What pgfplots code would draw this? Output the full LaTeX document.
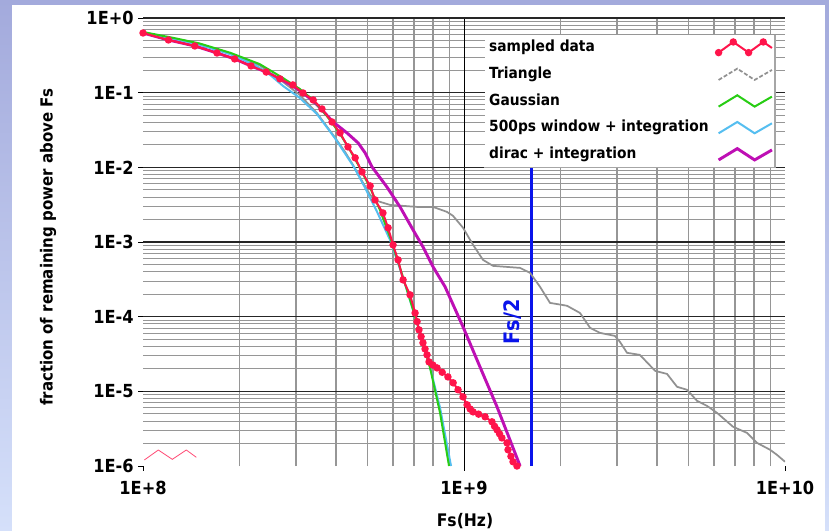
\documentclass[border=0pt]{standalone}
\usepackage{fontspec}
\setmainfont{DejaVu Sans}[FakeStretch=0.9]
\usepackage{pgfplots}
\pgfplotsset{compat=1.18}

\definecolor{sampred}{RGB}{255,20,75}
\definecolor{trigray}{RGB}{145,145,145}
\definecolor{gaussgreen}{RGB}{40,205,20}
\definecolor{winblue}{RGB}{85,190,240}
\definecolor{diracmag}{RGB}{190,15,180}
\definecolor{fsblue}{RGB}{10,20,235}
\definecolor{minorgray}{RGB}{150,150,150}
\definecolor{bandtop}{RGB}{163,170,220}
\definecolor{bandbot}{RGB}{213,224,250}

\pgfplotsset{
  zigmark/.style={legend image code/.code={%
    \draw[mark indices={1,2,3,4},##1] plot coordinates {(0pt,-3.5pt) (11pt,4.5pt) (22.5pt,-3.5pt) (33.5pt,4.5pt) (40pt,0pt)};}},
  zigline/.style={legend image code/.code={%
    \draw[##1] (0pt,-4pt) -- (14pt,4.5pt) -- (27pt,-4pt) -- (40pt,3.5pt);}},
}

\begin{document}
\begin{tikzpicture}[font=\bfseries]
\useasboundingbox (-107.25pt,-48.75pt) rectangle (514.5pt,349.5pt);
\fill[white] (-107.25pt,-48.75pt) rectangle (514.5pt,349.5pt);
\shade[top color=bandtop, bottom color=bandbot] (-107.25pt,-48.75pt) rectangle (-98.25pt,349.5pt);
\fill[bandtop] (-107.25pt,345.75pt) rectangle (514.5pt,349.5pt);
\shade[top color=bandtop, bottom color=bandbot] (511.5pt,-48.75pt) rectangle (514.5pt,345.75pt);

\begin{axis}[
  at={(0,0)}, anchor=south west,
  scale only axis, width=481.5pt, height=336pt,
  xmode=log, ymode=log,
  xmin=1e8, xmax=1e10, ymin=1e-6, ymax=1,
  axis line style={draw=none},
  xtick={1e8,1e9,1e10}, xticklabels={1E+8,1E+9,1E+10},
  ytick={1e-6,1e-5,1e-4,1e-3,1e-2,1e-1,1},
  yticklabels={1E-6,1E-5,1E-4,1E-3,1E-2,1E-1,1E+0},
  minor xtick={2e8,3e8,4e8,5e8,6e8,7e8,8e8,9e8,2e9,3e9,4e9,5e9,6e9,7e9,8e9,9e9},
  minor ytick={2e-6,3e-6,4e-6,5e-6,6e-6,7e-6,8e-6,9e-6,
               2e-5,3e-5,4e-5,5e-5,6e-5,7e-5,8e-5,9e-5,
               2e-4,3e-4,4e-4,5e-4,6e-4,7e-4,8e-4,9e-4,
               2e-3,3e-3,4e-3,5e-3,6e-3,7e-3,8e-3,9e-3,
               2e-2,3e-2,4e-2,5e-2,6e-2,7e-2,8e-2,9e-2,
               2e-1,3e-1,4e-1,5e-1,6e-1,7e-1,8e-1,9e-1},
  xminorgrids=true, yminorgrids=true,
  xmajorgrids=false, ymajorgrids=false,
  minor x grid style={minorgray, line width=1.2pt},
  minor y grid style={minorgray, line width=0.75pt},
  extra x ticks={1e9}, extra x tick labels={},
  extra y ticks={1e-5,1e-4,1e-3,1e-2,1e-1,1}, extra y tick labels={},
  extra x tick style={xmajorgrids=true, major grid style={black, line width=0.7pt}, major tick length=0pt},
  extra y tick style={ymajorgrids=true, major grid style={black!85, line width=0.9pt}, major tick length=0pt},
  xtick pos=bottom, ytick pos=left,
  tick align=outside, major tick length=3.5pt, minor tick length=0pt,
  tick style={black, line width=0.6pt},
  xticklabel style={font=\bfseries\fontsize{13.5}{15}\selectfont, yshift=-4pt},
  yticklabel style={font=\bfseries\fontsize{13.5}{15}\selectfont},
  legend style={name=leg, at={(0.9844,0.962)}, anchor=north east, draw=none, fill=white,
    font=\bfseries\fontsize{11.5}{13}\selectfont,
    inner xsep=1pt, inner ysep=0pt, row sep=1pt, column sep=3pt,
    nodes={inner sep=2.5pt, text height=10pt, text depth=4pt}},
  legend cell align=left,
  legend plot pos=right,
]
% Fs/2 marker line
\addplot[fsblue, line width=2.3pt, forget plot] coordinates {(1.62e9,1e-6) (1.62e9,1.02e-2)};

% Triangle
\addplot[trigray, line width=1.3pt, forget plot] coordinates {
(1.00e8,0.630) (1.26e8,0.524) (1.50e8,0.449) (1.87e8,0.332) (2.31e8,0.232)
(2.73e8,0.139) (3.08e8,0.0932) (3.48e8,0.0535) (3.91e8,0.0272) (4.26e8,0.0161)
(4.51e8,0.01077) (4.85e8,0.00618) (5.10e8,0.00427) (5.36e8,0.00355) (5.88e8,0.00314)
(7.14e8,0.00295) (8.01e8,0.00295) (8.85e8,0.00253) (9.24e8,0.00224) (9.93e8,0.00155)
(1.067e9,9.15e-4) (1.146e9,5.76e-4) (1.231e9,4.79e-4) (1.495e9,4.50e-4) (1.606e9,3.86e-4)
(1.725e9,2.51e-4) (1.853e9,1.53e-4) (2.093e9,1.40e-4) (2.298e9,1.12e-4) (2.47e9,7.08e-5)
(2.65e9,6.07e-5) (2.95e9,5.53e-5) (3.06e9,4.60e-5) (3.22e9,3.28e-5) (3.53e9,3.08e-5)
(3.94e9,1.88e-5) (4.29e9,1.71e-5) (4.61e9,1.15e-5) (4.95e9,1.05e-5) (5.32e9,7.46e-6)
(5.71e9,6.40e-6) (6.14e9,5.15e-6) (6.89e9,3.35e-6) (7.61e9,2.78e-6) (8.18e9,2.04e-6)
(8.98e9,1.65e-6) (9.44e9,1.41e-6) (1.0e10,1.14e-6)
};

% dirac + integration
\addplot[diracmag, line width=2.2pt, forget plot] coordinates {
(1.00e8,0.630) (1.20e8,0.508) (1.45e8,0.422) (1.70e8,0.340) (1.93e8,0.283)
(2.17e8,0.228) (2.42e8,0.189) (2.67e8,0.153) (2.93e8,0.123) (3.15e8,0.0991)
(3.39e8,0.0774) (3.61e8,0.0587) (3.91e8,0.0405) (4.32e8,0.0289) (4.68e8,0.0212)
(4.92e8,0.0156) (5.17e8,0.0101) (5.75e8,0.00547) (6.32e8,0.00295) (6.94e8,0.00145)
(7.45e8,8.60e-4) (8.01e8,4.64e-4) (8.73e8,2.51e-4) (9.93e8,7.30e-5) (1.121e9,2.13e-5)
(1.267e9,6.20e-6) (1.390e9,2.24e-6) (1.495e9,1.0e-6)
};

% 500ps window + integration
\addplot[winblue, line width=1.5pt, forget plot] coordinates {
(1.00e8,0.630) (1.26e8,0.524) (1.50e8,0.438) (1.87e8,0.327) (2.23e8,0.236)
(2.49e8,0.1726) (2.73e8,0.123) (3.08e8,0.0849) (3.48e8,0.0519) (3.96e8,0.0247)
(4.54e8,0.0101) (4.92e8,0.00530) (5.36e8,0.00253) (5.88e8,0.00107) (6.46e8,3.31e-4)
(7.09e8,9.06e-5) (7.78e8,2.41e-5) (8.42e8,6.01e-6) (9.11e8,1.0e-6)
};

% Gaussian
\addplot[gaussgreen, line width=1.5pt, forget plot] coordinates {
(1.00e8,0.650) (1.26e8,0.535) (1.50e8,0.456) (1.87e8,0.342) (2.31e8,0.241)
(2.73e8,0.157) (3.08e8,0.112) (3.39e8,0.0798) (3.74e8,0.0488) (4.11e8,0.0280)
(4.41e8,0.0171) (4.74e8,0.00982) (5.10e8,0.00530) (5.47e8,0.00269) (5.88e8,0.00117)
(6.32e8,4.50e-4) (6.79e8,1.68e-4) (7.29e8,6.07e-5) (7.84e8,2.06e-5) (8.42e8,5.15e-6)
(8.98e8,1.0e-6)
};

% sampled data
\addplot[sampred, line width=1.5pt, mark=*, mark size=2pt, forget plot] coordinates {
(1.00e8,0.630) (1.20e8,0.508) (1.45e8,0.422) (1.70e8,0.340) (1.93e8,0.283)
(2.17e8,0.228) (2.42e8,0.189) (2.67e8,0.153) (2.93e8,0.127) (3.15e8,0.0991)
(3.39e8,0.0798) (3.61e8,0.0605) (3.88e8,0.0405) (4.11e8,0.0289) (4.35e8,0.0188)
(4.58e8,0.0134) (4.81e8,0.00868) (5.10e8,0.00564) (5.28e8,0.00366) (5.59e8,0.00245)
(5.80e8,0.00155) (6.01e8,9.15e-4) (6.23e8,5.76e-4) (6.46e8,3.11e-4) (6.79e8,1.96e-4)
(7.04e8,1.12e-4) (7.14e8,8.6e-5) (7.24e8,6.66e-5) (7.35e8,5.4e-5) (7.45e8,4.46e-5)
(7.56e8,3.7e-5) (7.67e8,3.08e-5) (7.78e8,2.48e-5) (8.00e8,2.25e-5) (8.24e8,2.06e-5)
(8.55e8,1.8e-5) (8.91e8,1.56e-5) (9.25e8,1.3e-5) (9.58e8,1.05e-5) (9.93e8,8.43e-6)
(1.022e9,6.60e-6) (1.045e9,5.8e-6) (1.067e9,5.31e-6) (1.11e9,4.95e-6) (1.163e9,4.56e-6)
(1.222e9,3.91e-6) (1.245e9,3.4e-6) (1.267e9,3.05e-6) (1.29e9,2.7e-6) (1.312e9,2.38e-6)
(1.361e9,2.04e-6) (1.371e9,1.65e-6) (1.40e9,1.35e-6) (1.421e9,1.14e-6) (1.462e9,1.0e-6)
};

\addlegendimage{zigmark, sampred, line width=1.5pt, mark=*, mark size=2pt}
\addlegendentry{sampled data}
\addlegendimage{zigline, trigray, line width=1.3pt, dash pattern=on 3pt off 1.5pt}
\addlegendentry{Triangle}
\addlegendimage{zigline, gaussgreen, line width=1.5pt}
\addlegendentry{Gaussian}
\addlegendimage{zigline, winblue, line width=1.5pt}
\addlegendentry{500ps window + integration}
\addlegendimage{zigline, diracmag, line width=2.2pt}
\addlegendentry{dirac + integration}

\node[rotate=90, text=fsblue, font=\bfseries\fontsize{16}{18}\selectfont] at (axis cs:1.42e9,8.5e-5) {Fs/2};
\end{axis}

\draw[black!35, line width=1pt] (leg.south west) -- (leg.south east) -- (leg.north east);
\draw[sampred!75, line width=0.6pt] (1pt,4.5pt) -- (11.5pt,12pt) -- (22pt,5pt) -- (32.5pt,12pt) -- (40pt,6.5pt);

\node[font=\bfseries\fontsize{13}{15}\selectfont] at (241.5pt,-41.25pt) {Fs(Hz)};
\node[rotate=90, font=\bfseries\fontsize{12.5}{14}\selectfont] at (-71.25pt,164.25pt) {fraction of remaining power above Fs};
\end{tikzpicture}
\end{document}
